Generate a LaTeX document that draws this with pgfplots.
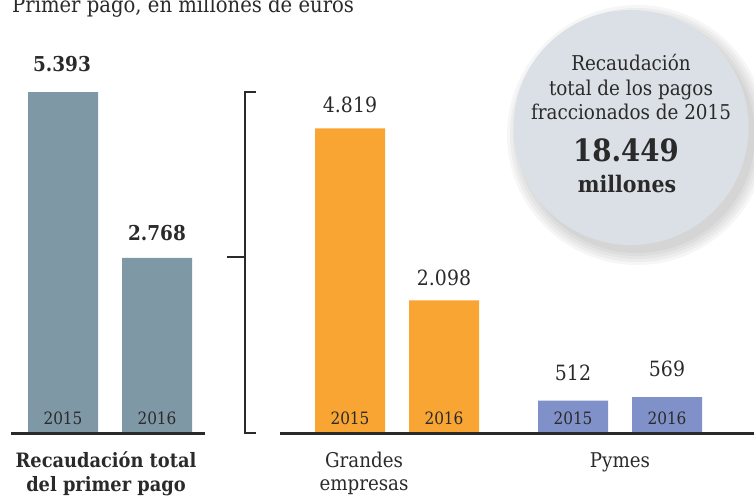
\documentclass[border=0pt]{standalone}
\usepackage{fontspec}
\setmainfont{DejaVu Serif Condensed}
\usepackage{pgfplots}
\pgfplotsset{compat=1.18}
\definecolor{cgray}{HTML}{7F98A5}
\definecolor{corange}{HTML}{F9A533}
\definecolor{cblue}{HTML}{8090C8}
\definecolor{ccircle}{HTML}{DAE0E5}
\definecolor{ctext}{HTML}{2A2A2A}
\newcommand{\fs}[1]{\fontsize{#1}{#1}\selectfont}
\begin{document}
\begin{tikzpicture}[x=1pt,y=1pt]
\useasboundingbox (0,0) rectangle (754,496);
\clip (0,0) rectangle (754,496);
% circle with soft shadow
\foreach \r in {130,127,124,121,118}{
  \fill[black,opacity=0.035] (637,361) circle (\r);
}
\fill[ccircle] (631,368.5) circle (117.5);
\begin{axis}[at={(0,0)}, anchor=south west, scale only axis,
  width=754pt, height=496pt, xmin=0, xmax=754, ymin=-996, ymax=6848,
  hide axis, clip=false]
\addplot[ybar, bar width=70pt, bar shift=0pt, fill=cgray, draw=none] coordinates {(63,5393) (157,2768)};
\addplot[ybar, bar width=70pt, bar shift=0pt, fill=corange, draw=none] coordinates {(350,4819) (444,2098)};
\addplot[ybar, bar width=70pt, bar shift=0pt, fill=cblue, draw=none] coordinates {(573,512) (667,569)};
\end{axis}
% baselines and bracket
\draw[line width=2.4pt, ctext] (11,62.5) -- (205,62.5);
\draw[line width=2.4pt, ctext] (280,62.5) -- (754,62.5);
\draw[line width=2.2pt, ctext] (256,404) -- (245,404) -- (245,63) -- (256,63);
\draw[line width=2.2pt, ctext] (227,239) -- (245,239);
% texts
\begin{scope}[every node/.style={text=ctext, inner sep=0pt}]
\node[anchor=base west] at (12,483) {\fs{21.8}Primer pago, en millones de euros};
\node[anchor=base] at (62,424) {\fs{20.5}\bfseries 5.393};
\node[anchor=base] at (157,256) {\fs{20.5}\bfseries 2.768};
\node[anchor=base] at (350,383) {\fs{21}4.819};
\node[anchor=base] at (444,211) {\fs{21}2.098};
\node[anchor=base] at (573,116) {\fs{21}512};
\node[anchor=base] at (667,120) {\fs{21}569};
\foreach \x/\yr in {63/2015,157/2016,350/2015,444/2016,573/2015,667/2016}{
  \node[anchor=base] at (\x,72) {\fs{17}\yr};
}
\node[anchor=base] at (106,29) {\fs{19.8}\bfseries Recaudación total};
\node[anchor=base] at (106,5) {\fs{19.8}\bfseries del primer pago};
\node[anchor=base] at (364,29) {\fs{20.3}Grandes};
\node[anchor=base] at (364,6) {\fs{20.3}empresas};
\node[anchor=base] at (620,29) {\fs{20.3}Pymes};
\node[anchor=base] at (631,425) {\fs{20.4}Recaudación};
\node[anchor=base] at (631,400) {\fs{20.4}total de los pagos};
\node[anchor=base] at (631,376) {\fs{20.4}fraccionados de 2015};
\node[anchor=base] at (626,334) {\fs{30.7}\bfseries 18.449};
\node[anchor=base] at (627,304) {\fs{22.8}\bfseries millones};
\end{scope}
\end{tikzpicture}
\end{document}
